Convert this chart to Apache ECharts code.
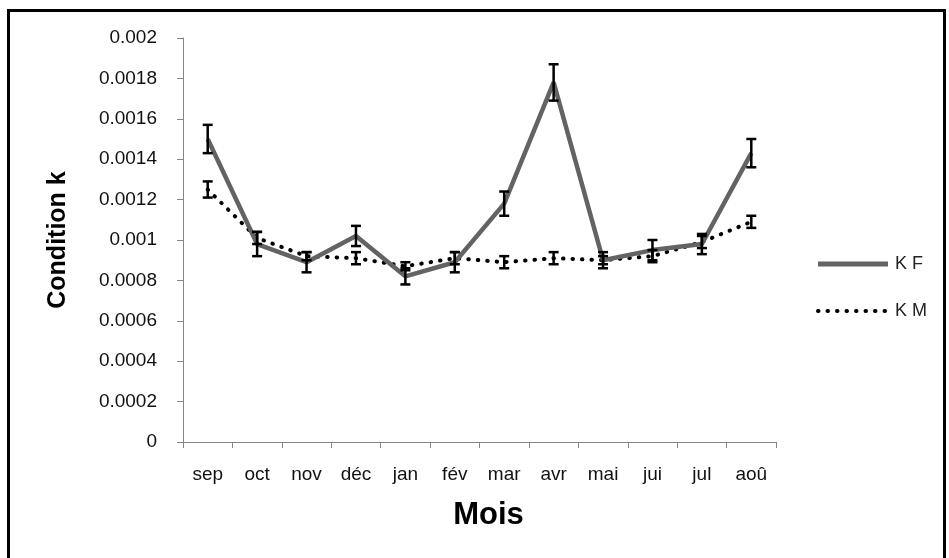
<!DOCTYPE html>
<html>
<head>
<meta charset="utf-8">
<script src="https://cdn.jsdelivr.net/npm/echarts@6/dist/echarts.min.js"></script>
<style>
  html, body { margin: 0; padding: 0; background: #fff; }
  #chart { width: 949px; height: 558px; }
</style>
</head>
<body>
<div id="chart"></div>
<script>
// mois
const months = ['sep', 'oct', 'nov', 'déc', 'jan', 'fév', 'mar', 'avr', 'mai', 'jui', 'jul', 'aoû']
// K F (femelles) et barres d'erreur
const kf = [0.00150, 0.00098, 0.00089, 0.00102, 0.00082, 0.00089, 0.00118, 0.00178, 0.00090, 0.00095, 0.00098, 0.00143]
const kfErr = [0.00007, 0.00006, 0.00005, 0.00005, 0.00004, 0.00005, 0.00006, 0.00009, 0.00004, 0.00005, 0.00005, 0.00007]
// K M (males) et barres d'erreur
const km = [0.00125, 0.00101, 0.00092, 0.00091, 0.00087, 0.00091, 0.00089, 0.00091, 0.00090, 0.00092, 0.00099, 0.00109]
const kmErr = [0.00004, 0.00003, 0.00002, 0.00003, 0.00002, 0.00003, 0.00003, 0.00003, 0.00002, 0.00003, 0.00003, 0.00003]
// graduations Y
const yTicks = ['0', '0.0002', '0.0004', '0.0006', '0.0008', '0.001', '0.0012', '0.0014', '0.0016', '0.0018', '0.002']

const chart = echarts.init(document.getElementById('chart'))

function errorBars(values, errs) {
  return values.map((v, i) => [i, v - errs[i], v + errs[i]])
}

function renderErr(params, api) {
  const lo = api.coord([api.value(0), api.value(1)])
  const hi = api.coord([api.value(0), api.value(2)])
  const w = 5
  const style = { stroke: '#000', lineWidth: 2.5 }
  return {
    type: 'group',
    children: [
      { type: 'line', shape: { x1: hi[0], y1: hi[1], x2: lo[0], y2: lo[1] }, style },
      { type: 'line', shape: { x1: hi[0] - w, y1: hi[1], x2: hi[0] + w, y2: hi[1] }, style },
      { type: 'line', shape: { x1: lo[0] - w, y1: lo[1], x2: lo[0] + w, y2: lo[1] }, style }
    ]
  }
}

const axisGrey = '#868686'
const labelFont = "'Liberation Sans', Arial, sans-serif"
const kfStyle = { color: '#636363', width: 4.5 }
const kmStyle = { color: '#000', width: 4, dash: [0.5, 9] }

// legende dessinee a la main (a droite du graphique)
const legendItems = [
  { name: 'K F', y: 264, stroke: kfStyle.color, lineWidth: 5, dash: null },
  { name: 'K M', y: 311, stroke: kmStyle.color, lineWidth: kmStyle.width, dash: kmStyle.dash }
]
const legendGraphics = []
legendItems.forEach(it => {
  legendGraphics.push({
    type: 'line', z: 50,
    shape: { x1: 818, y1: it.y, x2: 888, y2: it.y },
    style: { stroke: it.stroke, lineWidth: it.lineWidth, lineDash: it.dash, lineCap: it.dash ? 'round' : 'butt' }
  })
  legendGraphics.push({
    type: 'text', z: 50, x: 895, y: it.y,
    style: { text: it.name, font: "18px 'Liberation Sans', Arial, sans-serif", fill: '#222', verticalAlign: 'middle' }
  })
})

chart.setOption({
  animation: false,
  graphic: [{
    type: 'rect', z: 100,
    shape: { x: 8.5, y: 10.5, width: 936, height: 580 },
    style: { fill: 'none', stroke: '#000', lineWidth: 3 }
  }].concat(legendGraphics),
  grid: { left: 183, right: 173, top: 38, bottom: 116 },
  xAxis: {
    type: 'category', data: months, boundaryGap: true,
    name: 'Mois', nameLocation: 'middle', nameGap: 58,
    nameTextStyle: { fontFamily: labelFont, fontWeight: 'bold', fontSize: 31, color: '#000', padding: [0, 0, 0, 18] },
    axisLine: { lineStyle: { color: axisGrey, width: 1 } },
    axisTick: { show: true, interval: 0, length: 6, lineStyle: { color: axisGrey } },
    axisLabel: { interval: 0, margin: 23, fontFamily: labelFont, fontSize: 19, color: '#111' }
  },
  yAxis: {
    type: 'value', min: 0, max: 0.002, interval: 0.0002,
    name: 'Condition k', nameLocation: 'middle', nameGap: 112, nameRotate: 90,
    nameTextStyle: { fontFamily: labelFont, fontWeight: 'bold', fontSize: 25, color: '#000' },
    axisLine: { show: true, lineStyle: { color: axisGrey, width: 1 } },
    axisTick: { show: true, length: 6, lineStyle: { color: axisGrey } },
    splitLine: { show: false },
    axisLabel: {
      margin: 26, fontFamily: labelFont, fontSize: 19, color: '#111',
      formatter: v => yTicks[Math.round(v / 0.0002)]
    }
  },
  series: [
    {
      name: 'K F', type: 'line', data: kf, symbol: 'none', z: 3,
      lineStyle: { color: kfStyle.color, width: kfStyle.width }
    },
    {
      name: 'K M', type: 'line', data: km, symbol: 'none', z: 2,
      lineStyle: { color: kmStyle.color, width: kmStyle.width, type: kmStyle.dash, cap: 'round' }
    },
    { type: 'custom', renderItem: renderErr, data: errorBars(kf, kfErr), z: 5, silent: true },
    { type: 'custom', renderItem: renderErr, data: errorBars(km, kmErr), z: 5, silent: true }
  ]
})
</script>
</body>
</html>
